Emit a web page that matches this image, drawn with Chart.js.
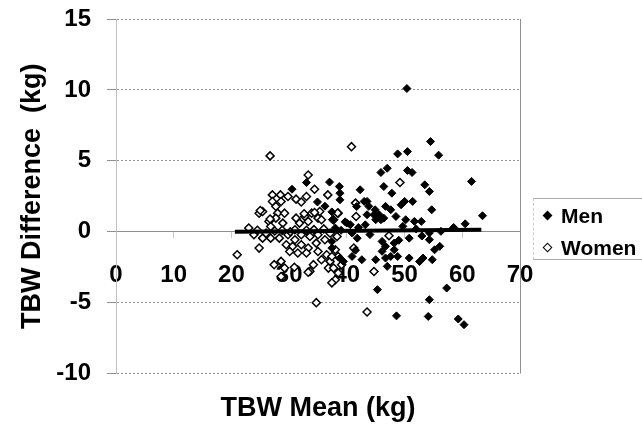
<!DOCTYPE html>
<html>
<head>
<meta charset="utf-8">
<title>TBW difference vs mean</title>
<script src="https://cdn.jsdelivr.net/npm/chart.js@4.4.0/dist/chart.umd.min.js"></script>
<style>
  html, body { margin: 0; padding: 0; background: #fff; }
  #wrap { position: relative; width: 642px; height: 439px; }
  #legend {
    position: absolute; left: 533px; top: 198px; width: 109px; height: 62px;
    box-sizing: border-box;
    border-top: 1px solid #aaa; border-bottom: 1px solid #aaa; border-left: 1px dashed #ccc;
    font: bold 21px "Liberation Sans", Arial, sans-serif; color: #000;
  }
  .item { position: absolute; left: 27px; height: 24px; line-height: 24px; }
  .item.men   { top: 5px; }
  .item.women { top: 37px; }
  .mk {
    position: absolute; left: -17px; top: 8px; width: 7px; height: 7px;
    box-sizing: border-box; transform: rotate(45deg);
  }
  .mk.men   { background: #000; }
  .mk.women { background: #fff; border: 1.5px solid #000; }
</style>
</head>
<body>
<div id="wrap">
  <canvas id="chart" width="642" height="439"></canvas>
  <div id="legend">
    <div class="item men"><span class="mk men"></span>Men</div>
    <div class="item women"><span class="mk women"></span>Women</div>
  </div>
</div>

<script>
// ── Data ─────────────────────────────────────────────────────────────────────
const X_RANGE = [0, 70];
const Y_RANGE = [-10, 15];
const X_STEP = 10;
const Y_STEP = 5;

// [mean, difference] pairs, kg
const MEN = [
  [30.5,3.0],[33.0,3.47],[34.9,2.1],[37.0,3.5],[38.7,3.19],[38.8,2.72],[38.8,2.25],
  [42.3,2.96],[41.7,1.78],[43.0,2.14],[43.5,2.14],[43.8,1.79],[44.9,1.55],[43.5,1.2],
  [37.5,0.85],[39.7,0.7],[40.0,0.61],[38.0,0.26],[37.4,1.4],[36.2,1.8],
  [45.9,4.18],[47.0,4.48],[50.5,4.32],[51.3,4.18],[53.5,3.31],[54.3,2.84],[46.4,3.19],
  [47.8,2.72],[49.4,1.9],[50.0,2.14],[51.4,2.14],[46.7,1.79],[47.6,1.55],[54.7,1.55],
  [44.7,1.2],[45.6,1.2],[45.0,0.85],[45.9,0.85],[46.4,0.96],[48.5,1.08],[50.2,0.85],
  [51.7,0.73],[52.9,0.73],[40.6,0.5],[49.7,0.38],[43.2,0.49],
  [40.9,-0.09],[41.8,-0.45],[46.1,-0.68],[46.7,-1.03],[48.2,-0.8],[48.2,-1.27],
  [46.1,-1.38],[47.6,-1.74],[48.8,-1.74],[46.7,-1.85],[50.8,-0.45],[54.3,-0.56],
  [55.2,-1.27],[56.1,-1.03],[53.2,-1.85],[50.8,-1.85],[45.0,-1.97],[42.6,-1.97],
  [40.9,-1.74],[39.4,-2.09],[38.8,-1.85],[47.0,-2.44],[45.3,-4.08],[54.3,-4.79],
  [37.4,-0.68],[37.4,-1.15],[41.5,-1.3],
  [50.4,10.1],[54.5,6.36],[48.8,5.49],[50.5,5.65],[55.9,5.4],[61.6,3.55],[63.5,1.13],
  [60.5,0.56],[56.3,0.03],[54.3,-0.08],[52.6,-2.1],[54.8,-1.97],[57.3,-3.97],
  [48.6,-5.93],[54.1,-5.97],[59.3,-6.15],[60.3,-6.55],
  [39.0,0.1],[42.0,0.3],[44.0,-0.2],[52.0,0.2],[58.5,0.3],[53.0,-0.3],[49.0,-0.6],
];

const WOMEN = [
  [23.0,0.26],[23.9,-0.21],[24.8,1.31],[25.4,1.43],[25.4,-0.45],[26.8,-0.45],[28.3,-0.45],
  [29.8,-0.21],[31.0,-0.56],[32.1,-0.21],[33.6,-0.33],[35.0,-0.21],[37.1,-0.1],[38.3,-0.33],
  [27.1,2.6],[28.5,2.6],[29.8,2.49],[27.1,2.13],[28.6,2.13],[27.7,1.78],[33.0,2.49],
  [34.4,3.0],[36.7,2.6],[28.0,1.31],[29.2,1.31],[27.7,0.96],[26.5,0.73],[28.9,0.61],
  [31.2,0.96],[32.7,1.08],[33.9,1.31],[35.3,1.43],[38.5,1.31],[33.3,0.73],[31.8,0.61],
  [35.0,0.96],[37.7,0.84],[31.0,0.14],[26.8,0.37],
  [24.8,-1.15],[29.5,-0.92],[30.6,-1.03],[32.1,-0.92],[33.3,-1.15],[34.7,-0.8],[36.2,-0.56],
  [30.1,-1.39],[31.5,-1.5],[33.0,-1.5],[35.0,-1.39],[36.5,-1.62],[38.0,-1.27],[35.6,-1.97],
  [37.1,-2.09],[38.5,-1.74],[39.1,-2.32],[27.4,-2.32],[28.6,-2.09],[29.2,-2.56],[34.2,-2.32],
  [36.8,-2.56],[33.6,-2.79],[38.0,-3.38],
  [26.7,5.35],[33.3,4.0],[40.8,6.0],[21.0,-1.62],[34.7,-5.0],[43.5,-5.66],[44.7,-2.8],
  [49.2,3.47],[41.5,2.02],[38.4,1.32],[41.6,1.08],[47.3,-0.28],[41.2,-1.15],[37.4,-1.74],
  [37.7,-2.56],[38.5,-2.91],[37.4,-3.6],
  [31.2,2.3],[32.1,2.1],[25.0,1.5],[26.7,0.9],[32.6,1.27],[34.4,1.36],[35.6,0.85],
  [27.5,0.05],[28.8,0.1],[30.2,0.0],[33.0,0.1],[34.3,0.15],[36.0,0.2],[24.5,0.1],[26.0,-0.1],
  [28.6,-3.15],[30.9,-2.5],[33.3,-2.85],
];

// regression of difference on mean (end points of the drawn segment)
const FIT_LINE = [[20.6,0.0],[63.3,0.15]];

// ── Styling ─────────────────────────────────────────────────────────────────
const FONT_FAMILY = "'Liberation Sans', Arial, Helvetica, sans-serif";
const TICK_FONT  = { family: FONT_FAMILY, size: 24, weight: "bold" };
const TITLE_FONT = { family: FONT_FAMILY, size: 27, weight: "bold" };
const GRID_GREY  = "#8f8f8f";

const toXY = pts => pts.map(([x, y]) => ({ x, y }));

// right edge of the plot frame
const frameEdge = {
  id: "frameEdge",
  beforeDatasetsDraw(chart) {
    const { ctx, chartArea: a } = chart;
    ctx.save();
    ctx.strokeStyle = GRID_GREY;
    ctx.lineWidth = 1;
    ctx.beginPath();
    ctx.moveTo(Math.round(a.right) + 0.5, a.top);
    ctx.lineTo(Math.round(a.right) + 0.5, a.bottom);
    ctx.stroke();
    ctx.restore();
  },
};

new Chart(document.getElementById("chart").getContext("2d"), {
  type: "scatter",
  data: {
    datasets: [
      {
        type: "line",
        label: "fit",
        data: toXY(FIT_LINE),
        borderColor: "#000",
        borderWidth: 4,
        pointRadius: 0,
        xAxisID: "x",
        order: -1,
      },
      {
        label: "Men",
        data: toXY(MEN),
        pointStyle: "rectRot",
        pointRadius: 4,
        backgroundColor: "#000",
        borderColor: "#000",
        borderWidth: 1,
        xAxisID: "x",
      },
      {
        label: "Women",
        data: toXY(WOMEN),
        pointStyle: "rectRot",
        pointRadius: 4,
        backgroundColor: "#fff",
        borderColor: "#000",
        borderWidth: 1.5,
        xAxisID: "x",
      },
    ],
  },
  options: {
    responsive: false,
    animation: false,
    layout: { padding: { left: 4, top: 19, right: 122, bottom: 10 } },
    plugins: {
      legend: { display: false },
      tooltip: { enabled: false },
    },
    scales: {
      x: {
        type: "linear",
        position: { y: 0 },
        min: X_RANGE[0], max: X_RANGE[1],
        ticks: { stepSize: X_STEP, color: "#000", font: TICK_FONT, padding: 23, maxRotation: 0 },
        grid: { drawOnChartArea: false, drawTicks: true, tickLength: 6, color: "#c8c8c8" },
        border: { display: true, color: GRID_GREY },
      },
      x2: {
        type: "linear",
        position: "bottom",
        min: X_RANGE[0], max: X_RANGE[1],
        ticks: { display: false },
        grid: { display: false, drawTicks: false },
        border: { display: false },
        title: {
          display: true, text: "TBW Mean (kg)", color: "#000", font: TITLE_FONT,
          padding: { top: 19, bottom: 4 },
        },
      },
      y: {
        type: "linear",
        position: "left",
        min: Y_RANGE[0], max: Y_RANGE[1],
        ticks: { stepSize: Y_STEP, color: "#000", font: TICK_FONT, padding: 16 },
        grid: { color: GRID_GREY, tickLength: 9, lineWidth: 1 },
        border: { color: "#c0c0c0", dash: [2, 2] },
        title: {
          display: true, text: "TBW Difference  (kg)", color: "#000", font: TITLE_FONT,
          padding: { top: 12, bottom: 0 },
        },
        afterFit: s => { s.width = 112; s.paddingTop = 0; s.paddingBottom = 0; },
      },
    },
  },
  plugins: [frameEdge],
});
</script>
</body>
</html>
